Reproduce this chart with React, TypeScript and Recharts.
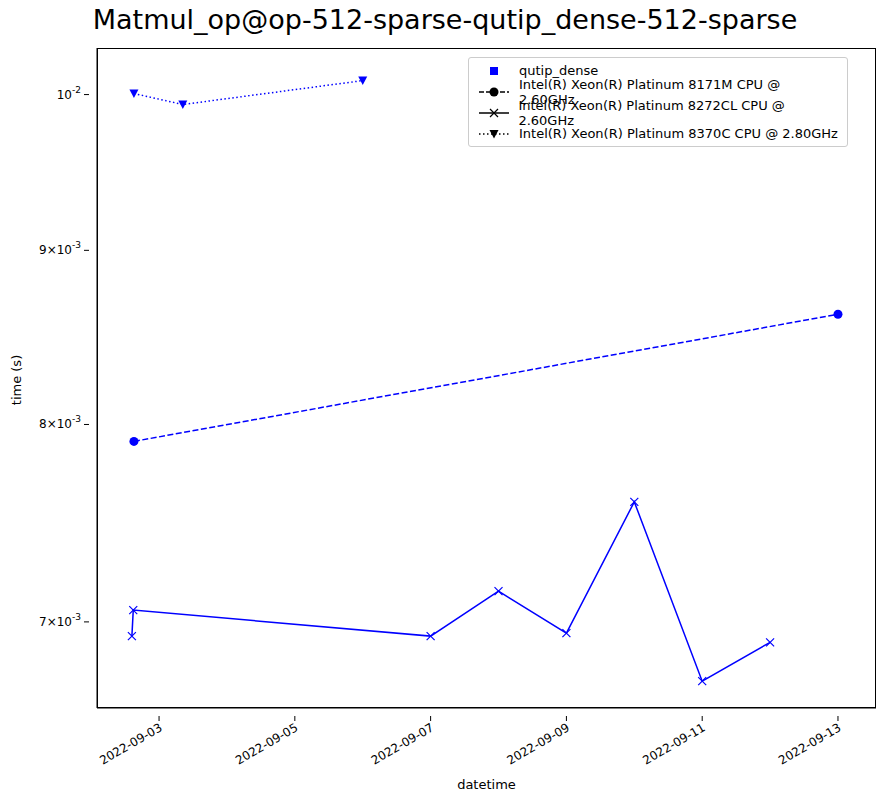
import React from "react";
import { LineChart, Line, XAxis, YAxis } from "recharts";

// x = days since 2022-09-01
const s8171 = [
  { d: 1.63, t: 0.007909 },
  { d: 12.0, t: 0.008619 },
];
const s8272 = [
  { d: 1.6, t: 0.006933 },
  { d: 1.62, t: 0.007056 },
  { d: 6.0, t: 0.006933 },
  { d: 7.0, t: 0.007147 },
  { d: 8.0, t: 0.006947 },
  { d: 9.0, t: 0.007592 },
  { d: 10.0, t: 0.006725 },
  { d: 11.0, t: 0.006904 },
];
const s8370 = [
  { d: 1.63, t: 0.010007 },
  { d: 2.35, t: 0.009933 },
  { d: 5.0, t: 0.010095 },
];
const xTicks = [2, 4, 6, 8, 10, 12];
const xLabels = ["2022-09-03", "2022-09-05", "2022-09-07", "2022-09-09", "2022-09-11", "2022-09-13"];
const yTicks = [0.007, 0.008, 0.009, 0.01];
const yMant = ["7", "8", "9", ""];
const yExp = ["-3", "-3", "-3", "-2"];
const legendNames = [
  "qutip_dense",
  "Intel(R) Xeon(R) Platinum 8171M CPU @ 2.60GHz",
  "Intel(R) Xeon(R) Platinum 8272CL CPU @ 2.60GHz",
  "Intel(R) Xeon(R) Platinum 8370C CPU @ 2.80GHz",
];

const BLUE = "#0000ff";
const FONT = "DejaVu Sans, sans-serif";

const Circle = (p: any) => <circle cx={p.cx} cy={p.cy} r={4.5} fill={p.c || BLUE} />;
const Cross = (p: any) => (
  <path d={`M${p.cx - 4},${p.cy - 4}L${p.cx + 4},${p.cy + 4}M${p.cx - 4},${p.cy + 4}L${p.cx + 4},${p.cy - 4}`} stroke={p.c || BLUE} strokeWidth={1.2} />
);
const Tri = (p: any) => (
  <path d={`M${p.cx - 4.5},${p.cy - 4}L${p.cx + 4.5},${p.cy - 4}L${p.cx},${p.cy + 4.5}Z`} fill={p.c || BLUE} />
);

const XTick = (p: any) => {
  const i = xTicks.indexOf(p.payload.value);
  return (
    <g transform={`translate(${p.x},${p.y})`}>
      <line y1={0} y2={5} stroke="#000" />
      <text x={0} y={0} transform="translate(4,14) rotate(-30)" textAnchor="end" fontSize={12} fontFamily={FONT} fill="#000">
        {xLabels[i]}
      </text>
    </g>
  );
};
const YTick = (p: any) => {
  const i = yTicks.findIndex((v) => Math.abs(v - p.payload.value) < 1e-9);
  return (
    <g transform={`translate(${p.x},${p.y})`}>
      <line x1={0} x2={-5} stroke="#000" />
      <text x={-8} y={4} textAnchor="end" fontSize={12} fontFamily={FONT} fill="#000">
        {yMant[i] ? `${yMant[i]}×10` : "10"}
        <tspan fontSize={9} dy={-6}>{yExp[i]}</tspan>
      </text>
    </g>
  );
};

const LegendBox = () => (
  <div style={{ position: "absolute", left: 468, top: 57, border: "1px solid #ccc", borderRadius: 3, background: "#fff", padding: "2px 8px", fontFamily: FONT, fontSize: 13, width: 380, boxSizing: "border-box" }}>
    {legendNames.map((n, i) => (
      <div key={n} style={{ display: "flex", alignItems: "center", height: 21 }}>
        <svg width={34} height={14} style={{ marginRight: 8 }}>
          {i === 1 && <line x1={2} x2={32} y1={7} y2={7} stroke="#000" strokeWidth={1.5} strokeDasharray="5 2" />}
          {i === 2 && <line x1={2} x2={32} y1={7} y2={7} stroke="#000" strokeWidth={1.5} />}
          {i === 3 && <line x1={2} x2={32} y1={7} y2={7} stroke="#000" strokeWidth={1.5} strokeDasharray="1.5 2.5" />}
          {i === 0 && <rect x={13} y={3} width={8} height={8} fill={BLUE} />}
          {i === 1 && <Circle cx={17} cy={7} c="#000" />}
          {i === 2 && <Cross cx={17} cy={7} c="#000" />}
          {i === 3 && <Tri cx={17} cy={7} c="#000" />}
        </svg>
        {n}
      </div>
    ))}
  </div>
);

export default function App() {
  return (
    <div style={{ position: "absolute", left: 0, top: 0, width: 883, height: 803, background: "#fff" }}>
      <div style={{ position: "absolute", top: 4, left: 0, width: 890, textAlign: "center", fontFamily: FONT, fontSize: 27 }}>
        Matmul_op@op-512-sparse-qutip_dense-512-sparse
      </div>
      <div style={{ position: "absolute", top: 777, left: 97, width: 779, textAlign: "center", fontFamily: FONT, fontSize: 13 }}>datetime</div>
      <div style={{ position: "absolute", left: 16, top: 380, transform: "translate(-50%,-50%) rotate(-90deg)", fontFamily: FONT, fontSize: 13, whiteSpace: "nowrap" }}>time (s)</div>
      <div style={{ position: "absolute", left: 97, top: 48, width: 779, height: 660, border: "1px solid #000", boxSizing: "border-box" }} />
      <div style={{ position: "absolute", left: 0, top: 0 }}>
        <LineChart width={883} height={803} margin={{ top: 48, right: 7, left: 0, bottom: 0 }}>
          <XAxis type="number" dataKey="d" domain={[1.086, 12.56]} ticks={xTicks} tick={<XTick />} tickLine={false} height={95} stroke="#000" allowDataOverflow />
          <YAxis type="number" dataKey="t" scale="log" domain={[0.006604, 0.01032]} ticks={yTicks} tick={<YTick />} tickLine={false} width={97} stroke="#000" allowDataOverflow />
          <Line data={s8171} dataKey="t" stroke={BLUE} strokeWidth={1.5} strokeDasharray="6 2.5" dot={<Circle />} isAnimationActive={false} />
          <Line data={s8272} dataKey="t" stroke={BLUE} strokeWidth={1.5} dot={<Cross />} isAnimationActive={false} />
          <Line data={s8370} dataKey="t" stroke={BLUE} strokeWidth={1.5} strokeDasharray="1.5 2.5" dot={<Tri />} isAnimationActive={false} />
        </LineChart>
      </div>
      <LegendBox />
    </div>
  );
}
